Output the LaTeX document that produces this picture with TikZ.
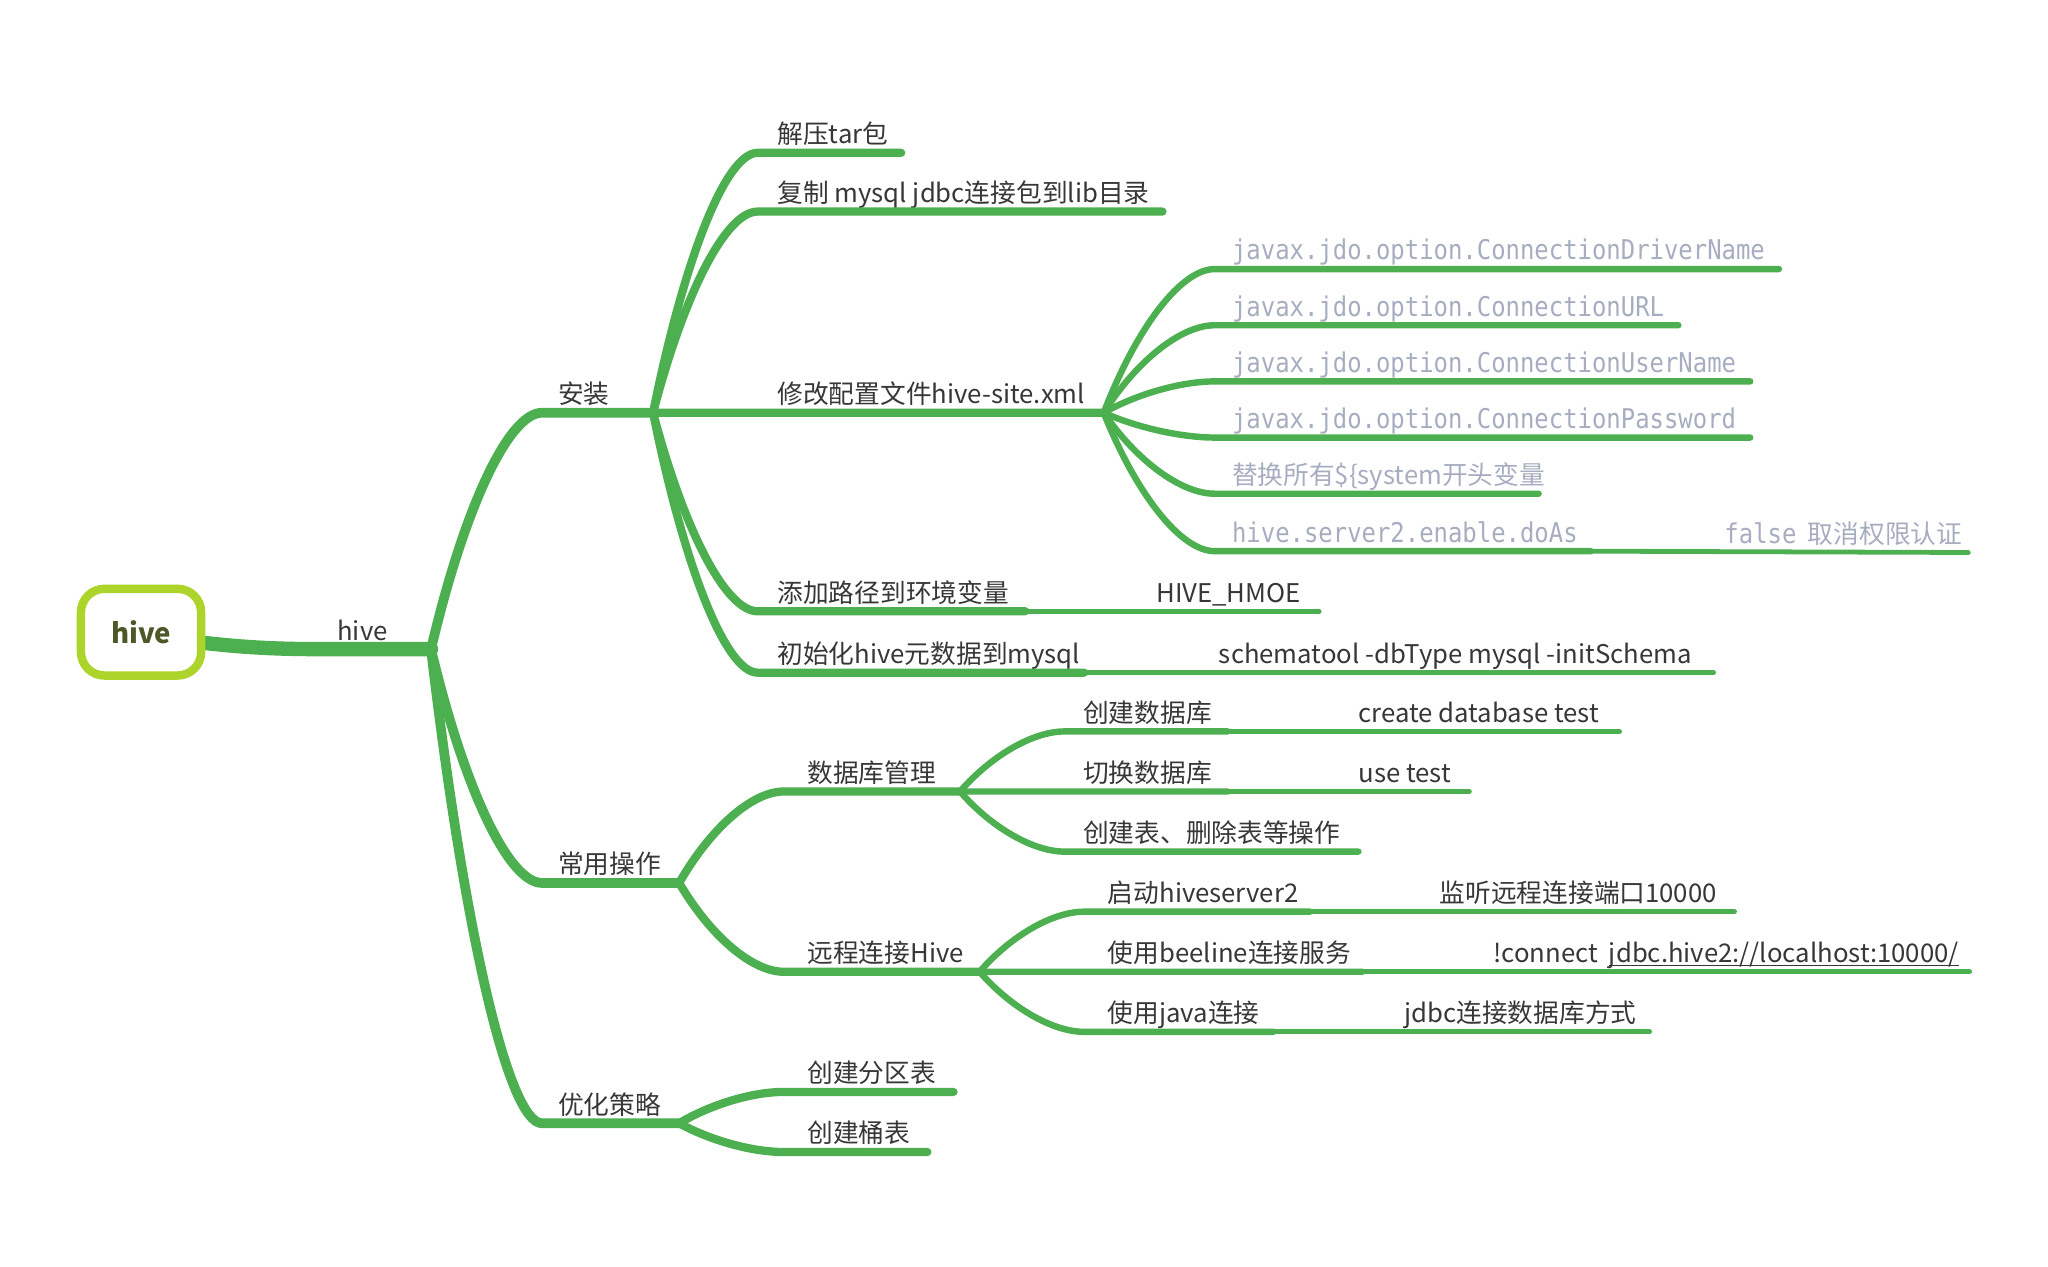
\documentclass[tikz,border=0pt]{standalone}
\usepackage{fontspec}
\setmainfont{Noto Sans CJK SC}
\newfontfamily\codefont{DejaVu Sans Mono}
\usetikzlibrary{calc}
\definecolor{mmgreen}{RGB}{76,175,80}
\definecolor{mmlime}{RGB}{172,212,42}
\definecolor{mmtext}{RGB}{55,55,55}
\definecolor{mmcode}{RGB}{166,173,192}
\definecolor{mmroot}{RGB}{75,88,40}
\tikzset{
  branch/.style={draw=mmgreen, line cap=round, line join=round},
  lvlzero/.style={branch, line width=7.8pt},
  lvlone/.style={branch, line width=5.3pt},
  lvltwo/.style={branch, line width=4.5pt},
  lvlthree/.style={branch, line width=3.5pt},
  tail/.style={branch, line width=2.6pt},
  lbl/.style={anchor=base west, inner sep=0pt, text=mmtext, font=\fontsize{14}{16}\selectfont},
  codelbl/.style={lbl, text=mmcode, font=\codefont\fontsize{14.8}{16}\selectfont},
  rootbox/.style={draw=mmlime, line width=4.6pt, rounded corners=0.45cm, minimum width=2.3cm,
    minimum height=1.66cm, fill=white, text=mmroot, font=\bfseries\fontsize{15}{16}\selectfont}
}
\begin{document}
\begin{tikzpicture}[x=0.025cm, y=-0.025cm, line join=round, line cap=round]
\useasboundingbox (0,0) rectangle (1568,969.3);
% junctions: name / start x / y / end x / label x
\coordinate (hive-w) at (245,497);
\coordinate (hive-e) at (330,497);
\foreach \n/\wx/\wy/\ex/\lx/\t in {install/415/316/500/427/安装, common/415/676/520/427/常用操作,
    optim/415/860/520/427/优化策略, untar/580/117/690/595/解压tar包,
    copyjar/580/162/890/595/复制 mysql jdbc连接包到lib目录, config/580/316/845/595/修改配置文件hive-site.xml,
    envpath/580/468/785/595/添加路径到环境变量, initdb/580/515/830/595/初始化hive元数据到mysql,
    dbmgr/600/606/735/618/数据库管理, remote/600/744/750/618/远程连接Hive,
    part/600/836/730/618/创建分区表, bucket/600/882/710/618/创建桶表,
    mkdb/815/560/940/829/创建数据库, usedb/815/606/940/829/切换数据库,
    mktbl/815/652/1040/829/创建表、删除表等操作, hs2/830/698/1003/848/启动hiveserver2,
    beeline/830/744/1043/848/使用beeline连接服务, javaconn/830/790/975/848/使用java连接}
  {\coordinate (\n-w) at (\wx,\wy);
   \coordinate (\n-e) at (\ex,\wy);
   \node[lbl] (\n) at (\lx,\wy-7) {\t};}
\foreach \n/\wy/\ex/\t in {drv/206/1362/javax.jdo.option.ConnectionDriverName,
    url/249/1285/javax.jdo.option.ConnectionURL, user/292/1340/javax.jdo.option.ConnectionUserName,
    pwd/335/1340/javax.jdo.option.ConnectionPassword, doas/422/1218/hive.server2.enable.doAs}
  {\coordinate (\n-w) at (930,\wy);
   \coordinate (\n-e) at (\ex,\wy);
   \node[codelbl] (\n) at (943,\wy-7) {\scalebox{0.88}[1]{\t}};}
\coordinate (sysvar-w) at (930,378);
\coordinate (sysvar-e) at (1178,378);
\node[lbl, text=mmcode] (sysvar) at (943,371) {替换所有\$\{system开头变量};

% tails with values
\foreach \n/\y/\tx/\lx/\t in {envpath/468/1010/885/HIVE\_HMOE, initdb/515/1312/933/schematool -dbType mysql -initSchema,
    mkdb/560/1240/1040/create database test, usedb/606/1125/1040/use test,
    hs2/698/1328/1102/监听远程连接端口10000, javaconn/790/1263/1075/jdbc连接数据库方式}
  {\coordinate (\n-t) at (\tx,\y);
   \draw[tail] (\n-e) -- (\n-t);
   \node[lbl] (\n-note) at (\lx,\y-7) {\t};}
\coordinate (doas-t) at (1507,423);
\draw[tail] (doas-e) -- (doas-t);
\node[lbl, text=mmcode] (doas-note) at (1320,416) {{\codefont\fontsize{14.8}{16}\selectfont\scalebox{0.88}[1]{false}}\ \ 取消权限认证};
\coordinate (beeline-t) at (1508,744);
\draw[tail] (beeline-e) -- (beeline-t);
\node[lbl] (connect) at (1143,737) {!connect};
\node[lbl] (jdbcurl) at ([xshift=0.2cm]connect.base east) {jdbc.hive2://localhost:10000/};
\draw[mmtext, line width=0.6pt, line cap=butt] ([yshift=-1.6pt]jdbcurl.base west) -- ([yshift=-1.6pt]jdbcurl.base east);

% branches
\foreach \a/\b in {hive/install,hive/common,hive/optim}
  \draw[lvlone] let \p1=(\a-e), \p2=(\b-w) in (\p1) .. controls (0.7*\x1+0.3*\x2, 0.4*\y1+0.6*\y2)
    and (0.3*\x1+0.7*\x2, \y2) .. (\p2) -- (\b-e);
\foreach \a/\b in {install/untar,install/copyjar,install/config,install/envpath,install/initdb,
    common/dbmgr,common/remote,optim/part,optim/bucket}
  \draw[lvltwo] let \p1=(\a-e), \p2=(\b-w) in (\p1) .. controls (0.7*\x1+0.3*\x2, 0.4*\y1+0.6*\y2)
    and (0.3*\x1+0.7*\x2, \y2) .. (\p2) -- (\b-e);
\foreach \a/\b in {config/drv,config/url,config/user,config/pwd,config/sysvar,config/doas,
    dbmgr/mkdb,dbmgr/usedb,dbmgr/mktbl,remote/hs2,remote/beeline,remote/javaconn}
  \draw[lvlthree] let \p1=(\a-e), \p2=(\b-w) in (\p1) .. controls (0.7*\x1+0.3*\x2, 0.4*\y1+0.6*\y2)
    and (0.3*\x1+0.7*\x2, \y2) .. (\p2) -- (\b-e);

% root
\draw[lvlzero] (109,486) to[out=-8,in=180] (hive-w) -- (hive-e);
\node[lbl] (hivelbl) at (258,490) {hive};
\node[rootbox] (root) at (108,484) {hive};
\end{tikzpicture}
\end{document}
